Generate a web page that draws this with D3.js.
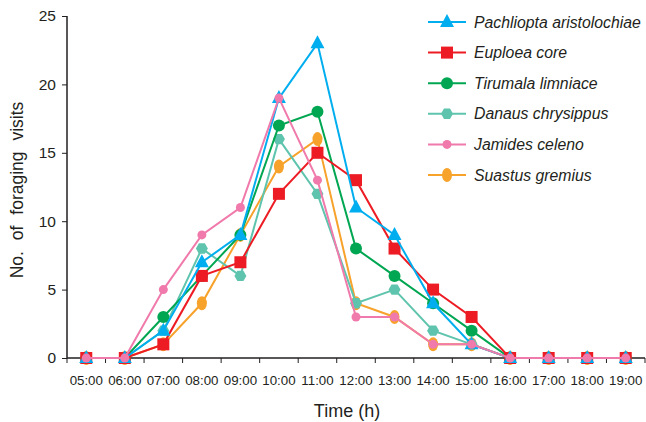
<!DOCTYPE html>
<html>
<head>
<meta charset="utf-8">
<script src="https://cdn.jsdelivr.net/npm/d3@7"></script>
<style>
  body { margin: 0; background: #fff; }
  svg text { font-family: "Liberation Sans", Arial, sans-serif; fill: #231f20; }
</style>
</head>
<body>
<div id="chart"></div>
<script>
// DATA
const hours = ["05:00", "06:00", "07:00", "08:00", "09:00", "10:00", "11:00", "12:00",
               "13:00", "14:00", "15:00", "16:00", "17:00", "18:00", "19:00"];
const yTicks = [0, 5, 10, 15, 20, 25];

const pachliopta = [0, 0, 2, 7, 9, 19, 23, 11, 9, 4, 1, 0, 0, 0, 0];
const euploea    = [0, 0, 1, 6, 7, 12, 15, 13, 8, 5, 3, 0, 0, 0, 0];
const tirumala   = [0, 0, 3, 6, 9, 17, 18, 8, 6, 4, 2, 0, 0, 0, 0];
const danaus     = [0, 0, 2, 8, 6, 16, 12, 4, 5, 2, 1, 0, 0, 0, 0];
const jamides    = [0, 0, 5, 9, 11, 19, 13, 3, 3, 1, 1, 0, 0, 0, 0];
const suastus    = [0, 0, 1, 4, 9, 14, 16, 4, 3, 1, 1, 0, 0, 0, 0];

const species = [
  {name: "Pachliopta aristolochiae", values: pachliopta, color: "#00aeef", marker: "triangle"},
  {name: "Euploea core",             values: euploea,    color: "#ed1c24", marker: "square"},
  {name: "Tirumala limniace",        values: tirumala,   color: "#00a651", marker: "circle"},
  {name: "Danaus chrysippus",        values: danaus,     color: "#5fc4ad", marker: "hexagon"},
  {name: "Jamides celeno",           values: jamides,    color: "#f07aab", marker: "dot"},
  {name: "Suastus gremius",          values: suastus,    color: "#f7a22b", marker: "ellipse"}
];
// draw order, bottom to top
const drawOrder = ["Suastus gremius", "Danaus chrysippus", "Tirumala limniace",
                   "Euploea core", "Pachliopta aristolochiae", "Jamides celeno"];

//SIZES
const width = 646, height = 422;
const margin = {top: 16, right: 1, bottom: 64, left: 67};

const svg = d3.select("#chart").append("svg")
  .attr("width", width).attr("height", height);

const x = d3.scaleBand().domain(hours).range([margin.left, width - margin.right]);
const y = d3.scaleLinear().domain([0, 25]).range([height - margin.bottom, margin.top]);

//MARKERS
function drawMarker(g, type, color) {
  if (type === "triangle") {
    g.append("path").attr("d", "M0,-8L7,5L-7,5Z").attr("fill", color);
  } else if (type === "square") {
    g.append("rect").attr("x", -6).attr("y", -6).attr("width", 12).attr("height", 12).attr("fill", color);
  } else if (type === "circle") {
    g.append("circle").attr("r", 6).attr("fill", color);
  } else if (type === "hexagon") {
    const pts = d3.range(6).map(i => {
      const a = Math.PI / 3 * i;
      return [6 * Math.cos(a), 6 * Math.sin(a)];
    });
    g.append("path").attr("d", "M" + pts.join("L") + "Z").attr("fill", color);
  } else if (type === "dot") {
    g.append("circle").attr("r", 4.5).attr("fill", color);
  } else if (type === "ellipse") {
    g.append("ellipse").attr("rx", 5).attr("ry", 7).attr("fill", color);
  }
}

//AXES
const xAxis = svg.append("g")
  .attr("transform", "translate(0," + y(0) + ")")
  .call(d3.axisBottom(x).tickSize(0).tickPadding(18));
xAxis.select(".domain").attr("stroke", "#231f20").attr("stroke-width", 1.5)
  .attr("d", "M" + margin.left + ",0H" + (width - margin.right));
xAxis.selectAll("text").attr("font-size", 13.3);
// boundary ticks between categories
svg.append("g").selectAll("line")
  .data(hours.concat(["end"]))
  .join("line")
  .attr("x1", (d, i) => margin.left + i * x.step())
  .attr("x2", (d, i) => margin.left + i * x.step())
  .attr("y1", y(0)).attr("y2", y(0) + 5)
  .attr("stroke", "#231f20").attr("stroke-width", 1);

const yAxis = svg.append("g")
  .attr("transform", "translate(" + margin.left + ",0)")
  .call(d3.axisLeft(y).tickValues(yTicks).tickSize(5).tickPadding(6));
yAxis.select(".domain").attr("stroke", "#231f20").attr("stroke-width", 1.5)
  .attr("d", "M0," + y(25) + "V" + y(0));
yAxis.selectAll("line").attr("stroke", "#231f20");
yAxis.selectAll("text").attr("font-size", 15.5);

svg.append("text").attr("x", 347).attr("y", 417)
  .attr("text-anchor", "middle").attr("font-size", 18).text("Time (h)");
svg.append("text")
  .attr("transform", "translate(23," + 190 + ") rotate(-90)")
  .attr("text-anchor", "middle").attr("font-size", 17.5)
  .attr("word-spacing", 6).text("No. of foraging visits");

//LINES
const line = d3.line()
  .x((d, i) => x(hours[i]) + x.bandwidth() / 2)
  .y(d => y(d));

drawOrder.forEach(n => {
  const s = species.find(sp => sp.name === n);
  const g = svg.append("g");
  g.append("path").datum(s.values)
    .attr("d", line).attr("fill", "none")
    .attr("stroke", s.color).attr("stroke-width", 2);
  s.values.forEach((v, i) => {
    const m = g.append("g")
      .attr("transform", "translate(" + (x(hours[i]) + x.bandwidth() / 2) + "," + y(v) + ")");
    drawMarker(m, s.marker, s.color);
  });
});

//LEGEND
const legend = svg.append("g").attr("transform", "translate(428,22)");
species.forEach((s, i) => {
  const row = legend.append("g").attr("transform", "translate(0," + (i * 30.6) + ")");
  row.append("line").attr("x1", 0).attr("x2", 38).attr("y1", 0).attr("y2", 0)
    .attr("stroke", s.color).attr("stroke-width", 2);
  drawMarker(row.append("g").attr("transform", "translate(19,0)"), s.marker, s.color);
  row.append("text").attr("x", 46).attr("y", 5.5)
    .attr("font-size", 15.8).attr("font-style", "italic").text(s.name);
});
</script>
</body>
</html>
